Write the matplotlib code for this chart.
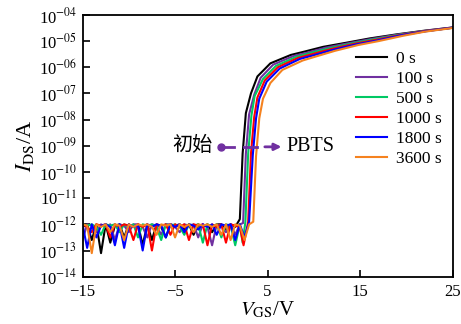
import math
import matplotlib
matplotlib.use("Agg")
import matplotlib.pyplot as plt
from matplotlib.ticker import FixedLocator, FuncFormatter

plt.rcParams['font.family'] = ['Liberation Serif', 'Noto Sans CJK SC']
plt.rcParams['mathtext.fontset'] = 'stix'
plt.rcParams['font.size'] = 12

# ---- data (log10 of I_DS in A) ----
v_off = [-15.0, -14.5, -14.0, -13.5, -13.0, -12.5, -12.0, -11.5, -11.0, -10.5,
         -10.0, -9.5, -9.0, -8.5, -8.0, -7.5, -7.0, -6.5, -6.0, -5.5,
         -5.0, -4.5, -4.0, -3.5, -3.0, -2.5, -2.0, -1.5, -1.0, -0.5,
         0.0, 0.5, 1.0, 1.5, 2.0]

off_0 = [-12.1, -12.0, -12.6, -12.0, -13.1, -12.0, -12.7, -12.05, -12.0, -12.5,
         -12.0, -12.1, -12.0, -12.8, -12.0, -12.6, -12.0, -12.1, -12.5, -12.0,
         -12.05, -12.0, -12.2, -12.0, -12.4, -12.0, -12.1, -12.0, -12.3, -12.0,
         -12.0, -12.2, -12.0, -12.1, -12.0]
off_100 = [-12.6, -12.0, -12.05, -12.3, -12.0, -12.1, -12.0, -12.6, -12.0, -12.05,
           -12.3, -12.0, -12.0, -12.1, -12.5, -12.0, -12.05, -12.4, -12.0, -12.0,
           -12.1, -12.3, -12.0, -12.05, -12.0, -12.5, -12.0, -12.1, -12.8, -12.0,
           -12.05, -12.3, -12.0, -12.4, -12.0]
off_500 = [-12.0, -12.05, -12.0, -12.1, -12.4, -12.0, -12.05, -12.0, -12.3, -12.0,
           -12.1, -12.0, -12.5, -12.0, -12.05, -12.0, -12.1, -12.6, -12.0, -12.05,
           -12.0, -12.1, -12.4, -12.0, -12.05, -12.0, -12.7, -12.0, -12.1, -12.0,
           -12.5, -12.0, -12.05, -12.8, -12.0]
off_1000 = [-12.0, -12.1, -12.3, -12.0, -12.05, -12.0, -12.5, -12.0, -12.1, -12.0,
            -12.05, -12.6, -12.0, -12.1, -12.0, -13.0, -12.0, -12.05, -12.0, -12.4,
            -12.0, -12.1, -12.0, -12.6, -12.0, -12.05, -12.0, -12.8, -12.0, -12.1,
            -12.0, -12.7, -12.0, -12.05, -12.1]
off_1800 = [-12.0, -12.9, -12.0, -12.5, -12.05, -12.0, -12.1, -12.8, -12.0, -12.9,
            -12.0, -12.1, -12.05, -13.0, -12.0, -12.1, -12.0, -12.05, -12.5, -12.0,
            -12.1, -12.0, -12.3, -12.0, -12.05, -12.2, -12.0, -12.1, -12.0, -12.4,
            -12.0, -12.05, -12.0, -12.6, -12.0]
off_3600 = [-12.0, -12.05, -13.1, -12.0, -12.1, -12.0, -12.3, -12.0, -12.05, -12.6,
            -12.0, -12.1, -12.0, -12.05, -12.0, -12.1, -12.4, -12.0, -12.05, -12.0,
            -12.5, -12.0, -12.1, -12.0, -12.3, -12.0, -12.05, -12.0, -12.1, -12.0,
            -12.4, -12.0, -12.6, -12.0, -12.05]

v_on_0 = [2.0, 2.3, 2.65, 3.2, 3.9, 5.3, 7.5, 9.0, 11.0, 13.7, 16.0, 19.0, 22.0, 25.0]
on_0 = [-11.8, -9.3, -7.75, -7.0, -6.35, -5.85, -5.53, -5.4, -5.22, -5.05, -4.9, -4.74, -4.6, -4.48]

v_on_100 = [2.35, 2.65, 3.0, 3.55, 4.25, 5.6, 7.8, 9.3, 11.3, 13.9, 16.2, 19.1, 22.0, 25.0]
on_100 = [-11.95, -9.3, -7.8, -7.05, -6.4, -5.9, -5.57, -5.44, -5.25, -5.07, -4.92, -4.75, -4.61, -4.48]

v_on_500 = [2.3, 2.6, 2.9, 3.25, 3.6, 4.5, 5.9, 8.1, 9.6, 11.6, 14.1, 16.4, 19.2, 22.0, 25.0]
on_500 = [-12.0, -12.7, -11.9, -9.3, -7.85, -7.1, -6.45, -5.95, -5.6, -5.46, -5.28, -5.09, -4.94, -4.76, -4.62, -4.49]

v_on_1000 = [2.4, 2.9, 3.2, 3.55, 3.9, 4.7, 6.1, 8.3, 9.8, 11.8, 14.3, 16.6, 19.3, 22.0, 25.0]
on_1000 = [-12.1, -12.8, -11.9, -9.3, -7.9, -7.15, -6.5, -6.0, -5.64, -5.5, -5.31, -5.11, -4.96, -4.77, -4.62, -4.49]

v_on_1800 = [2.5, 3.0, 3.4, 3.75, 4.1, 4.9, 6.3, 8.5, 10.0, 12.0, 14.5, 16.8, 19.4, 22.0, 25.0]
on_1800 = [-12.2, -12.5, -11.9, -9.35, -7.95, -7.2, -6.55, -6.05, -5.68, -5.54, -5.34, -5.13, -4.98, -4.78, -4.63, -4.49]

v_on_3600 = [2.5, 3.0, 3.45, 3.75, 4.1, 4.5, 5.3, 6.6, 8.8, 10.3, 12.3, 14.8, 17.0, 19.6, 22.0, 25.0]
on_3600 = [-12.2, -12.6, -12.0, -11.9, -9.4, -7.95, -7.2, -6.6, -6.1, -5.74, -5.58, -5.37, -5.15, -5.0, -4.8, -4.64, -4.5]

labels = ['0 s', '100 s', '500 s', '1000 s', '1800 s', '3600 s']
colors = ['#000000', '#7030A0', '#00C864', '#FF0000', '#0000FF', '#F5821F']

series = [(v_on_0, off_0, on_0), (v_on_100, off_100, on_100), (v_on_500, off_500, on_500),
          (v_on_1000, off_1000, on_1000), (v_on_1800, off_1800, on_1800),
          (v_on_3600, off_3600, on_3600)]

xticks = [-15, -5, 5, 15, 25]
yticks_exp = list(range(-14, -3))

fig = plt.figure(figsize=(4.61, 3.24), dpi=100)
ax = fig.add_axes([0.179, 0.146, 0.803, 0.808])

for (v_on, off, on), lab, col in zip(series, labels, colors):
    n_off = len([v for v in v_off if v < v_on[0]])
    xs = v_off[:n_off] + list(v_on)
    ys_log = off[:n_off] + list(on[-len(v_on):])
    ax.plot(xs, [10 ** y for y in ys_log], color=col, lw=1.5, label=lab)

ax.set_yscale('log')
ax.set_xlim(-15, 25)
ax.set_ylim(1e-14, 1e-4)
ax.xaxis.set_major_locator(FixedLocator(xticks))
ax.yaxis.set_major_locator(FixedLocator([10.0 ** e for e in yticks_exp]))
ax.yaxis.set_minor_locator(FixedLocator([]))
ax.xaxis.set_major_formatter(FuncFormatter(lambda x, p: f"{x:.0f}".replace('-', '\u2212')))
ax.yaxis.set_major_formatter(FuncFormatter(
    lambda y, p: r"10$^{\mathrm{-%02d}}$" % round(-math.log10(y))))
ax.tick_params(axis='both', direction='in', length=5, width=1.2, labelsize=12,
               top=False, right=False)
ax.tick_params(axis='x', pad=5)
ax.tick_params(axis='y', pad=4)
for s in ax.spines.values():
    s.set_linewidth(1.3)

ax.set_xlabel(r'$\mathit{V}_{\mathrm{GS}}$/V', fontsize=15, labelpad=0)
ax.set_ylabel(r'$\mathit{I}_{\mathrm{DS}}$/A', fontsize=16, labelpad=2)

# annotation
y_ann = 10 ** -9.04
ann_col = '#7030A0'
ax.plot([0.0, 1.4], [y_ann, y_ann], color=ann_col, lw=2)
ax.plot([0.0], [y_ann], 'o', color=ann_col, ms=5)
ax.plot([2.5, 3.8], [y_ann, y_ann], color=ann_col, lw=2)
ax.annotate('', xy=(6.5, y_ann), xytext=(4.7, y_ann),
            arrowprops=dict(arrowstyle='-|>', color=ann_col, lw=2, mutation_scale=10,
                            shrinkA=0, shrinkB=0))
ax.text(-0.9, y_ann, '初始', ha='right', va='center', fontsize=14.5)
ax.text(7.0, y_ann, 'PBTS', ha='left', va='center', fontsize=14.5)

ax.legend(loc='upper left', bbox_to_anchor=(0.738, 0.862), frameon=False, fontsize=12.5,
          handlelength=1.8, handletextpad=0.5, labelspacing=0.22, borderpad=0,
          borderaxespad=0)

fig.savefig('out.png', dpi=100)
